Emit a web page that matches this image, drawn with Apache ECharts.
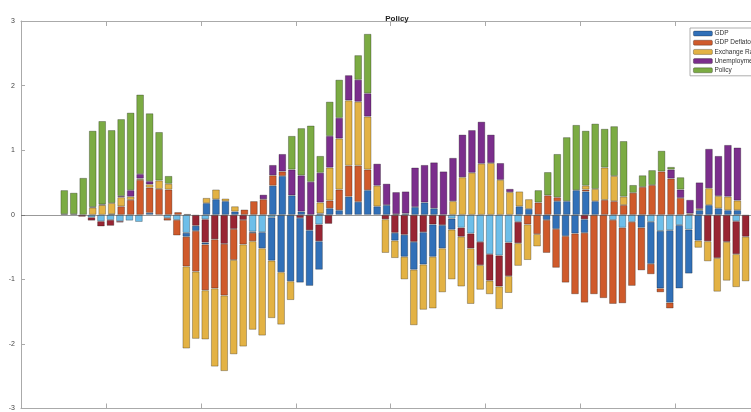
<!DOCTYPE html>
<html>
<head>
<meta charset="utf-8">
<script src="https://cdn.jsdelivr.net/npm/echarts@6/dist/echarts.min.js"></script>
<style>html,body{margin:0;padding:0;background:#fff}#chart{width:751px;height:412px}</style>
</head>
<body>
<div id="chart"></div>
<script>
// x axis runs from period 1 to 78; data starts at period 6
var firstPeriod = 6;
var periods = [];
for (var p = 1; p <= 78; p++) periods.push(p);

// positive contributions (periods 6..77)
var posGdp   = [.01,.01,0,0,0,.01,0,0,0,.03,0,0,0,.01,0,.18,.24,.21,.05,0,0,0,.45,.60,.30,.05,0,.02,.10,.07,.28,.20,.38,.13,.15,.01,.02,.12,.19,.10,0,0,0,0,0,0,0,0,.13,.09,0,0,.21,.21,.38,.36,.21,0,0,0,0,0,0,0,0,0,0,.07,.15,.10,.07,.07];
var posDefl  = [0,0,0,0,0,0,.13,.23,.54,.39,.40,.39,.04,0,0,0,0,0,0,.08,.21,.24,.16,.07,0,0,0,0,.12,.32,.48,.56,.32,0,0,0,0,0,0,0,0,0,0,0,0,0,0,0,0,0,.19,.30,.06,0,0,.03,0,.23,.21,.15,.34,.43,.46,.67,.56,.26,.02,0,0,0,0,0];
var posExch  = [0,0,0,.11,.15,.17,.14,.05,.02,.05,.13,.09,0,0,0,.08,.15,.04,.08,0,0,0,0,0,0,0,0,.17,.51,.79,1.01,.99,.82,.32,0,0,0,0,0,0,0,.21,.58,.65,.79,.80,.54,.35,.23,.15,0,0,0,0,0,.06,.19,.50,.39,.13,0,0,0,0,0,0,0,.02,.26,.19,.21,.15];
var posUnemp = [0,0,0,.01,.01,0,.02,.10,.07,.05,0,0,0,0,0,0,0,0,0,0,0,.07,.16,.27,.40,.56,.51,.46,.49,.32,.39,.34,.36,.34,.33,.34,.34,.61,.58,.71,.67,.67,.66,.66,.65,.44,.26,.05,0,0,0,0,0,0,0,0,0,0,0,0,0,0,0,0,.14,.13,.21,.41,.61,.62,.80,.82];
var posPol   = [.37,.33,.57,1.18,1.29,1.13,1.19,1.20,1.23,1.05,.75,.12,0,0,0,0,0,0,0,0,0,0,0,0,.52,.73,.87,.26,.53,.59,0,.38,.92,0,0,0,0,0,0,0,0,0,0,0,0,0,0,0,0,0,.19,.36,.67,.99,1.01,.85,1.01,.60,.77,.86,.12,.18,.23,.32,.04,.19,0,0,0,0,0,0];

// negative contributions (periods 6..77)
var negOther1 = [0,0,-.04,-.10,-.08,-.10,-.09,-.11,0,0,-.05,-.08,-.28,0,-.07,0,0,0,0,-.26,-.27,-.04,0,0,0,0,-.15,0,0,0,0,0,0,0,0,0,0,0,0,0,-.06,-.20,-.29,-.42,-.61,-.63,-.43,-.11,0,0,0,0,0,0,0,0,0,-.08,-.20,-.11,0,-.11,-.25,-.24,-.16,-.23,0,0,0,0,-.10,0];
var negOther2 = [0,-.03,-.05,-.08,-.09,-.02,0,0,0,0,0,0,0,-.17,-.36,-.38,-.45,-.22,-.08,0,0,0,0,0,-.05,-.24,-.26,-.14,0,0,0,0,0,-.07,-.28,-.31,-.42,-.27,-.15,-.16,0,-.14,-.23,-.36,-.41,-.48,-.52,-.33,0,0,0,0,0,0,-.07,0,0,0,0,0,0,0,0,0,0,0,0,-.41,-.67,-.42,-.51,-.34];
var negGdp    = [0,0,0,0,0,0,0,0,0,0,0,0,-.06,-.08,-.03,0,0,0,0,-.02,-.25,-.67,-.89,-1.03,-1.00,-.86,-.44,0,0,0,0,0,0,0,-.12,-.34,-.43,-.50,-.50,-.36,-.17,0,0,0,0,0,0,0,0,0,-.08,-.22,-.33,-.29,-.21,0,0,0,0,0,-.20,-.65,-.89,-1.12,-.98,-.68,-.40,0,0,0,0,0];
var negDefl   = [0,0,0,0,0,0,0,0,0,0,-.04,-.24,-.46,-.63,-.71,-.76,-.80,-.48,-.38,-.13,0,0,0,0,0,0,0,0,0,0,0,0,0,0,0,0,0,0,0,0,0,0,0,0,0,0,0,0,-.15,-.30,-.51,-.60,-.72,-.94,-1.08,-1.23,-1.29,-1.30,-1.17,-.99,-.66,-.16,-.06,-.09,0,0,0,0,0,0,0,0];
var negExch   = [0,0,0,0,0,0,0,0,0,0,0,0,-1.27,-1.04,-.76,-1.21,-1.17,-1.46,-1.58,-1.37,-1.35,-.89,-.81,-.29,0,0,0,0,0,0,0,0,0,-.52,-.27,-.35,-.86,-.70,-.80,-.68,-.77,-.77,-.86,-.38,-.21,-.35,-.26,-.35,-.55,-.19,0,0,0,0,0,0,0,0,0,0,0,0,0,0,0,0,-.11,-.31,-.52,-.60,-.51,-.69];

var legendNames = ['GDP', 'GDP Deflator', 'Exchange Rate', 'Unemployment', 'Policy'];

var colors = {
    gdp: '#3170b8',
    defl: '#cf5a2b',
    exch: '#e3b244',
    unemp: '#7b2e8c',
    pol: '#7bab43',
    other1: '#6dbee9',
    other2: '#982533'
};

// pad the series to the full axis, empty where there is no contribution
function padded(arr) {
    var out = [];
    for (var i = 0; i < periods.length; i++) {
        var j = periods[i] - firstPeriod;
        var v = (j >= 0 && j < arr.length) ? arr[j] : 0;
        out.push(v === 0 ? '-' : v);
    }
    return out;
}

function barSeries(name, stack, arr, color) {
    return {
        name: name,
        type: 'bar',
        stack: stack,
        barWidth: 7.5,
        data: padded(arr),
        itemStyle: {
            color: color,
            borderColor: 'rgba(0,0,0,0.35)',
            borderWidth: 0.8
        },
        emphasis: { disabled: true }
    };
}

var series = [
    barSeries('GDP', 'pos', posGdp, colors.gdp),
    barSeries('GDP Deflator', 'pos', posDefl, colors.defl),
    barSeries('Exchange Rate', 'pos', posExch, colors.exch),
    barSeries('Unemployment', 'pos', posUnemp, colors.unemp),
    barSeries('Policy', 'pos', posPol, colors.pol),
    barSeries('Other 1', 'neg', negOther1, colors.other1),
    barSeries('Other 2', 'neg', negOther2, colors.other2),
    barSeries('GDP', 'neg', negGdp, colors.gdp),
    barSeries('GDP Deflator', 'neg', negDefl, colors.defl),
    barSeries('Exchange Rate', 'neg', negExch, colors.exch)
];
// zero baseline
series[0].markLine = {
    silent: true,
    symbol: 'none',
    label: { show: false },
    lineStyle: { color: '#555', width: 1, type: 'solid', opacity: 0.6 },
    data: [{ yAxis: 0 }],
    z: 10
};

function xAxisConf(pos) {
    return {
        type: 'category',
        position: pos,
        data: periods,
        boundaryGap: false,
        axisLine: { show: true, onZero: false, lineStyle: { color: '#aaa' } },
        axisTick: {
            show: true, inside: true, length: 5,
            interval: function (i, v) { return v % 10 === 0; },
            lineStyle: { color: '#aaa' }
        },
        axisLabel: { show: false },
        splitLine: { show: false }
    };
}

var myChart = echarts.init(document.getElementById('chart'));
myChart.setOption({
    animation: false,
    title: {
        text: 'Policy',
        left: 392,
        top: 10,
        textAlign: 'center',
        textStyle: { fontSize: 8, fontWeight: 'bold', color: '#222', fontFamily: 'Liberation Sans' }
    },
    legend: {
        data: legendNames,
        orient: 'vertical',
        left: 690,
        top: 28,
        itemWidth: 19,
        itemHeight: 5,
        itemGap: 2.2,
        padding: [2, 3, 2, 3],
        borderColor: '#999',
        borderWidth: 0.8,
        backgroundColor: '#fff',
        textStyle: { fontSize: 6.5, color: '#333', padding: [0, 0, 0, -3], fontFamily: 'Liberation Sans' },
        itemStyle: { borderColor: 'rgba(0,0,0,0.35)', borderWidth: 0.8 }
    },
    grid: { left: 21, top: 21, right: -4, height: 392 },
    xAxis: [xAxisConf('bottom'), xAxisConf('top')],
    yAxis: {
        type: 'value',
        min: -3,
        max: 3,
        interval: 1,
        axisLine: { show: true, lineStyle: { color: '#aaa' } },
        axisTick: { show: true, inside: true, length: 4, lineStyle: { color: '#aaa' } },
        axisLabel: { fontSize: 7, color: '#444', margin: 6, fontFamily: 'Liberation Sans' },
        splitLine: { show: false }
    },
    series: series
});
</script>
</body>
</html>
